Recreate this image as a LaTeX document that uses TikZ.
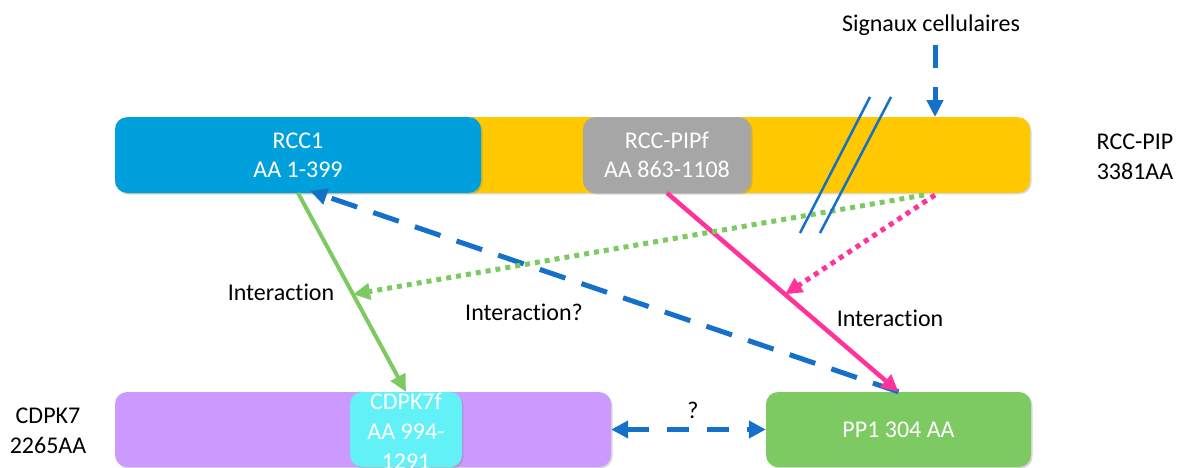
\documentclass[tikz,border=0pt]{standalone}
\usepackage{fontspec}
\setmainfont{Carlito}[Ligatures={NoCommon,NoRare}]
\usetikzlibrary{arrows.meta,shadows,calc}
\definecolor{cyellow}{HTML}{FFC800}
\definecolor{cblue}{HTML}{00A0DC}
\definecolor{cgray}{HTML}{A6A6A6}
\definecolor{cpurple}{HTML}{CC99FF}
\definecolor{ccyan}{HTML}{63F1F8}
\definecolor{cgreen}{HTML}{7DCA63}
\definecolor{abblue}{HTML}{1470C8}
\definecolor{apink}{HTML}{FF3399}
\definecolor{agreen}{HTML}{7DCA63}
\begin{document}
\begin{tikzpicture}[x=1pt,y=-1pt,
  box/.style={rounded corners=12pt, inner sep=0pt, text=white, align=center,
    font=\fontsize{24}{29}\selectfont,
    drop shadow={shadow xshift=1.5pt,shadow yshift=-1.5pt,opacity=0.3}},
  wtxt/.style={inner sep=0pt, text=white, align=center, font=\fontsize{24}{30}\selectfont},
  lbl/.style={inner sep=0pt, text=black, align=center, font=\fontsize{24}{30}\selectfont},
  arrtip/.style={-{Triangle[length=17pt,width=16pt]}},
  garrow/.style={arrtip, draw=agreen, line width=4pt},
  parrow/.style={arrtip, draw=apink, line width=4.5pt},
  bdash/.style={arrtip, draw=abblue, line width=5pt, dash pattern=on 27pt off 17pt},
  gdots/.style={arrtip, draw=agreen, line width=5pt, dash pattern=on 5pt off 5pt},
  pdots/.style={arrtip, draw=apink, line width=5pt, dash pattern=on 5pt off 5pt},
  dline/.style={draw=abblue, line width=2.5pt}
]
\clip (0,0) rectangle (1177,468);
\fill[white] (0,0) rectangle (1177,468);

% RCC-PIP bar and domains
\node[box, fill=cyellow, minimum width=915pt, minimum height=75.5pt] (pip) at (572.5,155) {};
\node[box, fill=cblue, minimum width=366pt, minimum height=75.5pt] (rcc) at (298,155) {RCC1\\AA 1-399};
\node[box, fill=cgray, minimum width=168pt, minimum height=75.5pt] (pipf) at (667,155) {RCC-PIPf\\AA 863-1108};

% CDPK7 and PP1
\node[box, fill=cpurple, minimum width=496pt, minimum height=75pt] (cdpk) at (363,429.5) {};
\node[box, fill=ccyan, minimum width=112pt, minimum height=75pt] (cdpkf) at (406,429.5) {};
\node[wtxt] (cdpkftxt) at (406,431) {CDPK7f\\AA 994-\\1291};
\node[box, fill=cgreen, minimum width=265pt, minimum height=75pt] (pp1) at (898.5,429.5) {PP1 304 AA};

% labels
\node[lbl] (piplbl) at (1135,157) {RCC-PIP\\3381AA};
\node[lbl] (cdpklbl) at (48,431) {CDPK7\\2265AA};
\node[lbl] (sig) at (931,25) {Signaux cellulaires};
\node[lbl] (int1) at (281,292) {Interaction};
\node[lbl] (int2) at (524,312) {Interaction?};
\node[lbl] (int3) at (890,318) {Interaction};
\node[lbl] (q) at (693,410) {?};

% coordinates
\coordinate (sigstart) at (935,45);
\coordinate (gstart) at (924,195);
\coordinate (pstart) at (935,195);
\coordinate (gmid) at ($(rcc.south)!0.51!(cdpkf.north)$);
\coordinate (pmid) at ($(pipf.south)!0.51!(pp1.north)$);
\coordinate (rccend) at ($(rcc.south)+(12,-2)$);
\coordinate (la) at (870,97);
\coordinate (lb) at (800,233);
\coordinate (lc) at (891,97);
\coordinate (ld) at (820,233);

% connectors
\draw[garrow] (rcc.south) -- (cdpkf.north);
\draw[bdash] (pp1.north) -- (rccend);
\draw[parrow] (pipf.south) -- (pp1.north);
\draw[gdots] (gstart) -- (gmid);
\draw[pdots] (pstart) -- (pmid);
\draw[dline] (la) -- (lb);
\draw[dline] (lc) -- (ld);
\draw[arrtip, draw=abblue, line width=5pt, dash pattern=on 23pt off 19pt] (sigstart) -- (sigstart |- pip.north);
\draw[{Triangle[length=17pt,width=17pt]}-{Triangle[length=17pt,width=17pt]}, draw=abblue, line width=5pt, dash pattern=on 22pt off 18pt] (cdpk.east) -- (pp1.west);
\end{tikzpicture}
\end{document}
